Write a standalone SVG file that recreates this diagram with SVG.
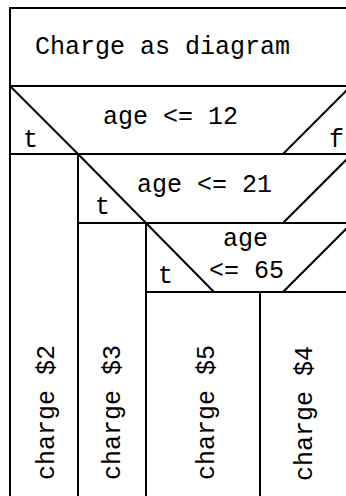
<svg xmlns="http://www.w3.org/2000/svg" width="346" height="496" viewBox="0 0 346 496">
<style>
.box{fill:#fff;stroke:#000;stroke-width:2}
.ln{stroke:#000;stroke-width:2;fill:none}
.t{font-family:"Liberation Mono","Courier New",monospace;font-size:25px;fill:#000}
</style>
<rect x="0" y="0" width="346" height="496" fill="#fff"/>
<g id="title">
<rect class="box" x="10" y="8" width="342" height="78"/>
<text class="t" x="35" y="54">Charge as diagram</text>
</g>
<g id="cond1">
<rect class="box" x="10" y="86" width="342" height="68"/>
<line class="ln" x1="10" y1="86" x2="78" y2="154"/>
<line class="ln" x1="283" y1="154" x2="351" y2="86"/>
<text class="t" x="103" y="124">age &lt;= 12</text>
<text class="t" x="23" y="147">t</text>
<text class="t" x="329" y="147">f</text>
</g>
<g id="cond2">
<rect class="box" x="78" y="154" width="274" height="69"/>
<line class="ln" x1="78" y1="154" x2="146" y2="223"/>
<line class="ln" x1="283" y1="223" x2="352" y2="154"/>
<text class="t" x="137" y="192">age &lt;= 21</text>
<text class="t" x="95" y="214">t</text>
</g>
<g id="cond3">
<rect class="box" x="146" y="223" width="206" height="69"/>
<line class="ln" x1="146" y1="223" x2="214" y2="292"/>
<line class="ln" x1="283" y1="292" x2="352" y2="223"/>
<text class="t" x="223" y="246">age</text>
<text class="t" x="209" y="278">&lt;= 65</text>
<text class="t" x="158" y="283">t</text>
</g>
<g id="charge2">
<rect class="box" x="10" y="154" width="68" height="350"/>
<text class="t" transform="translate(54,480) rotate(-90)">charge $2</text>
</g>
<g id="charge3">
<rect class="box" x="78" y="223" width="68" height="281"/>
<text class="t" transform="translate(120,480) rotate(-90)">charge $3</text>
</g>
<g id="charge5">
<rect class="box" x="146" y="292" width="114" height="212"/>
<text class="t" transform="translate(214,480) rotate(-90)">charge $5</text>
</g>
<g id="charge4">
<rect class="box" x="260" y="292" width="92" height="212"/>
<text class="t" transform="translate(312,481) rotate(-90)">charge $4</text>
</g>
</svg>
